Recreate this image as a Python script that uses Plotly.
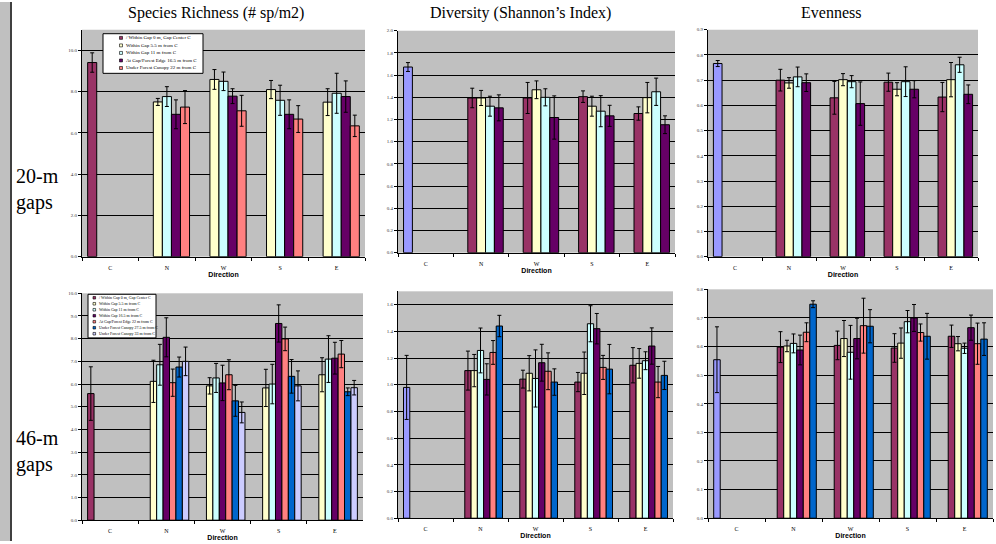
import plotly.graph_objects as go

W, H = 996, 544

categories = ["C", "N", "W", "S", "E"]

# Excel-style palette
PERI = "#9999FF"
MAROON = "#993366"
YELLOW = "#FFFFCC"
CYAN = "#CCFFFF"
PURPLE = "#660066"
SALMON = "#FF8080"
BLUE = "#0066CC"
LAV = "#CCCCFF"

names_20 = ["/ Within Gap 0 m, Gap Center C", "Within Gap 5.5 m from C", "Within Gap 11 m from C",
            "At Gap/Forest Edge 16.5 m from C", "Under Forest Canopy 22 m from C"]
names_46 = ["/ Within Gap 0 m, Gap Center C", "Within Gap 5.5 m from C", "Within Gap 11 m from C",
            "Within Gap 16.5 m from C", "At Gap/Forest Edge 22 m from C",
            "Under Forest Canopy 27.5 m from C", "Under Forest Canopy 33 m from C"]

# ---- 20-m gaps ----
rich20_vals = [
    [9.41, None, None, None, None],
    [None, 7.50, 8.59, 8.10, 7.49],
    [None, 7.76, 8.50, 7.58, 7.92],
    [None, 6.90, 7.78, 6.90, 7.76],
    [None, 7.25, 7.07, 6.67, 6.34],
]
rich20_err = [
    [0.47, None, None, None, None],
    [None, 0.17, 0.48, 0.44, 0.65],
    [None, 0.48, 0.45, 0.73, 0.97],
    [None, 0.70, 0.36, 0.70, 0.76],
    [None, 0.80, 0.75, 0.65, 0.52],
]
div20_vals = [
    [1.673, None, None, None, None],
    [None, 1.394, 1.394, 1.406, 1.254],
    [None, 1.394, 1.468, 1.320, 1.397],
    [None, 1.320, 1.400, 1.275, 1.450],
    [None, 1.305, 1.218, 1.233, 1.153],
]
div20_err = [
    [0.04, None, None, None, None],
    [None, 0.088, 0.140, 0.052, 0.060],
    [None, 0.068, 0.080, 0.090, 0.137],
    [None, 0.090, 0.077, 0.140, 0.123],
    [None, 0.117, 0.195, 0.095, 0.080],
]
even20_vals = [
    [0.766, None, None, None, None],
    [None, 0.700, 0.630, 0.692, 0.633],
    [None, 0.689, 0.702, 0.664, 0.702],
    [None, 0.713, 0.694, 0.694, 0.761],
    [None, 0.690, 0.607, 0.664, 0.644],
]
even20_err = [
    [0.012, None, None, None, None],
    [None, 0.043, 0.065, 0.036, 0.058],
    [None, 0.021, 0.024, 0.026, 0.068],
    [None, 0.039, 0.024, 0.059, 0.030],
    [None, 0.035, 0.086, 0.034, 0.037],
]

# ---- 46-m gaps ----
rich46_vals = [
    [5.58, None, None, None, None],
    [None, 6.12, 5.92, 5.83, 6.41],
    [None, 6.85, 6.27, 6.00, 7.10],
    [None, 8.06, 6.05, 8.67, 7.14],
    [None, 6.06, 6.41, 7.99, 7.32],
    [None, 6.75, 5.26, 6.34, 5.66],
    [None, 7.00, 4.75, 5.92, 5.84],
]
rich46_err = [
    [1.18, None, None, None, None],
    [None, 0.93, 0.36, 0.82, 0.75],
    [None, 0.90, 0.64, 0.87, 1.03],
    [None, 0.86, 0.78, 0.82, 0.70],
    [None, 0.60, 0.66, 0.52, 0.60],
    [None, 0.44, 0.68, 0.74, 0.17],
    [None, 0.63, 0.46, 0.66, 0.32],
]
div46_vals = [
    [0.98, None, None, None, None],
    [None, 1.106, 1.042, 1.020, 1.146],
    [None, 1.106, 1.086, 1.086, 1.160],
    [None, 1.257, 1.047, 1.457, 1.180],
    [None, 1.040, 1.165, 1.420, 1.290],
    [None, 1.242, 1.101, 1.130, 1.020],
    [None, 1.440, 1.020, 1.117, 1.070],
]
div46_err = [
    [0.24, None, None, None, None],
    [None, 0.146, 0.067, 0.072, 0.132],
    [None, 0.121, 0.132, 0.159, 0.111],
    [None, 0.168, 0.214, 0.135, 0.067],
    [None, 0.117, 0.138, 0.114, 0.136],
    [None, 0.089, 0.138, 0.090, 0.117],
    [None, 0.080, 0.099, 0.185, 0.106],
]
even46_vals = [
    [0.554, None, None, None, None],
    [None, 0.598, 0.604, 0.595, 0.636],
    [None, 0.602, 0.628, 0.612, 0.610],
    [None, 0.611, 0.580, 0.687, 0.594],
    [None, 0.588, 0.628, 0.700, 0.666],
    [None, 0.650, 0.673, 0.649, 0.610],
    [None, 0.748, 0.671, 0.636, 0.626],
]
even46_err = [
    [0.115, None, None, None, None],
    [None, 0.054, 0.050, 0.050, 0.039],
    [None, 0.020, 0.063, 0.053, 0.025],
    [None, 0.033, 0.094, 0.039, 0.018],
    [None, 0.052, 0.071, 0.047, 0.044],
    [None, 0.033, 0.096, 0.030, 0.072],
    [None, 0.012, 0.058, 0.080, 0.057],
]

colors_rich20 = [MAROON, YELLOW, CYAN, PURPLE, SALMON]
colors_other20 = [PERI, MAROON, YELLOW, CYAN, PURPLE]
colors_rich46 = [MAROON, YELLOW, CYAN, PURPLE, SALMON, BLUE, LAV]
colors_other46 = [PERI, MAROON, YELLOW, CYAN, PURPLE, SALMON, BLUE]

titles = ["Species Richness (# sp/m2)", "Diversity (Shannon\u2019s Index)", "Evenness"]
row_labels = ["20-m<br>gaps", "46-m<br>gaps"]


def px(x):
    return x / W


def py(y):
    return 1 - y / H


# panel: values, errors, colours, names, (x0, x1, y0, y1) pixels, y range, dtick
panels = [
    (rich20_vals, rich20_err, colors_rich20, names_20, (82, 365, 28, 257), 11, 2),
    (div20_vals, div20_err, colors_other20, names_20, (398, 675, 29, 253), 2.0, 0.2),
    (even20_vals, even20_err, colors_other20, names_20, (708, 978, 28, 257), 0.9, 0.1),
    (rich46_vals, rich46_err, colors_rich46, names_46, (82, 363, 294, 523), 10, 1),
    (div46_vals, div46_err, colors_other46, names_46, (398, 673, 292, 521), 1.7, 0.2),
    (even46_vals, even46_err, colors_other46, names_46, (708, 993, 290, 521), 0.8, 0.1),
]

fig = go.Figure()
layout = {}
TICKFONT = dict(family="Liberation Serif", size=6, color="black")

for i, (vals, errs, cols, names, box, ymax, dt) in enumerate(panels, start=1):
    xa = "x" if i == 1 else f"x{i}"
    ya = "y" if i == 1 else f"y{i}"
    for s, (v, e) in enumerate(zip(vals, errs)):
        fig.add_trace(go.Bar(
            x=categories, y=v, name=names[s], xaxis=xa, yaxis=ya,
            marker=dict(color=cols[s], line=dict(color="black", width=1)),
            error_y=dict(type="data", array=e, visible=True, color="black", thickness=1, width=2),
            showlegend=False,
        ))
    x0, x1, y0, y1 = box
    layout["xaxis" if i == 1 else f"xaxis{i}"] = dict(
        domain=[px(x0), px(x1)], anchor=ya, type="category",
        categoryorder="array", categoryarray=categories,
        showline=True, linecolor="black", linewidth=1,
        ticks="outside", tickson="boundaries", ticklen=3, tickcolor="black",
        tickfont=TICKFONT, showgrid=False, ticklabelstandoff=5,
        title=dict(text="<b>Direction</b>", font=dict(family="Liberation Sans", size=7, color="black"), standoff=1),
    )
    layout["yaxis" if i == 1 else f"yaxis{i}"] = dict(
        domain=[py(y1), py(y0)], anchor=xa, range=[0, ymax], dtick=dt, tick0=0,
        tickformat=".1f", showline=True, linecolor="black", linewidth=1,
        ticks="outside", ticklen=3, tickcolor="black", tickfont=dict(family="Liberation Serif", size=5, color="#333"),
        showgrid=True, gridcolor="black", gridwidth=1, zeroline=False,
    )

shapes = []
annotations = []

# left margin strip
shapes.append(dict(type="rect", xref="paper", yref="paper", x0=0, x1=px(10), y0=0, y1=1,
                   fillcolor="#C0C0C0", line=dict(width=0), layer="below"))
shapes.append(dict(type="line", xref="paper", yref="paper", x0=px(11), x1=px(11), y0=0, y1=1,
                   line=dict(color="black", width=1.5)))

# column titles
for t, cx in zip(titles, [216, 520, 831]):
    annotations.append(dict(text=t, xref="paper", yref="paper", x=px(cx), y=py(11),
                            showarrow=False, xanchor="center", yanchor="middle",
                            font=dict(family="Liberation Serif", size=16, color="black")))

# row labels
for t, cy in zip(row_labels, [189, 454]):
    annotations.append(dict(text=t, xref="paper", yref="paper", x=px(14), y=py(cy),
                            showarrow=False, xanchor="left", yanchor="middle", align="left",
                            font=dict(family="Liberation Serif", size=20, color="black")))


def legend_box(names, cols, bx0, by0, bx1, by1, first_y, step, mx, tx, msize, fsize):
    shapes.append(dict(type="rect", xref="paper", yref="paper", x0=px(bx0), x1=px(bx1),
                       y0=py(by1), y1=py(by0), fillcolor="white", line=dict(color="black", width=1)))
    for k, (n, c) in enumerate(zip(names, cols)):
        yy = first_y + k * step
        shapes.append(dict(type="rect", xref="paper", yref="paper",
                           x0=px(mx - msize / 2), x1=px(mx + msize / 2),
                           y0=py(yy + msize / 2), y1=py(yy - msize / 2),
                           fillcolor=c, line=dict(color="black", width=0.6)))
        annotations.append(dict(text=n, xref="paper", yref="paper", x=px(tx), y=py(yy),
                                showarrow=False, xanchor="left", yanchor="middle",
                                font=dict(family="Liberation Serif", size=fsize, color="black")))


legend_box(names_20, colors_rich20, 103, 32, 203, 72, 36.2, 7.6, 121, 124, 3, 5)
legend_box(names_46, colors_rich46, 88, 295, 156, 339, 298.5, 6.05, 94.3, 97.3, 2.6, 4)

fig.update_layout(
    width=W, height=H, margin=dict(l=0, r=0, t=0, b=0),
    paper_bgcolor="white", plot_bgcolor="#C0C0C0",
    barmode="group", bargap=0.2, bargroupgap=0,
    showlegend=False, shapes=shapes, annotations=annotations,
    **layout,
)

fig.write_html("out.html", config={"displayModeBar": False},
               post_script="document.body.style.margin='0px';document.body.style.overflow='hidden';")
